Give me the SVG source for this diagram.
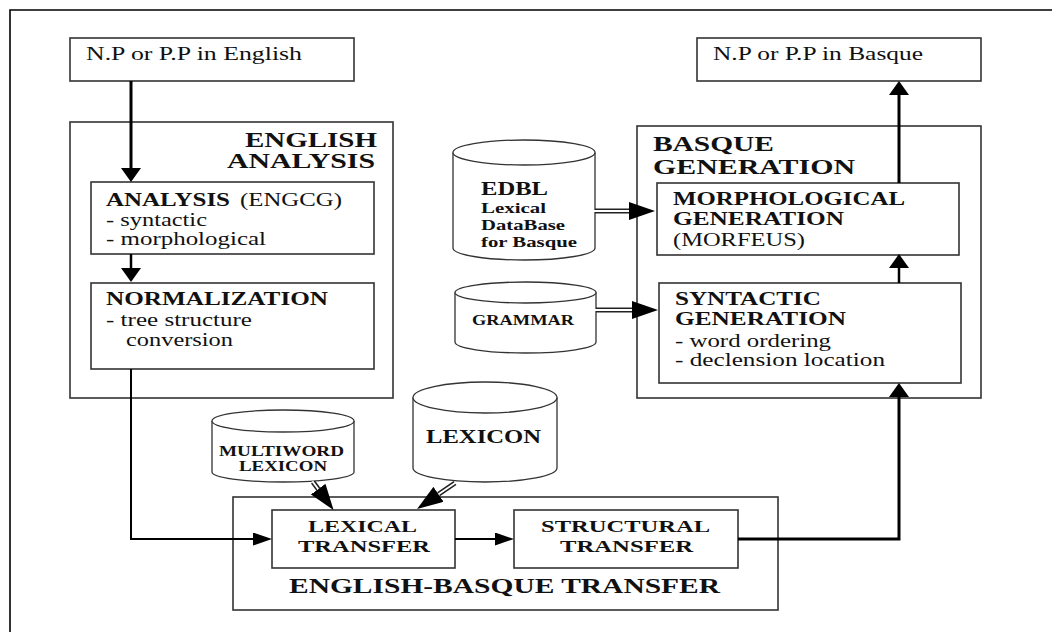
<svg xmlns="http://www.w3.org/2000/svg" width="1052" height="632" viewBox="0 0 1052 632">
<style>
.box{fill:#fff;stroke:#333;stroke-width:1.6}
.cyl{fill:#fff;stroke:#333;stroke-width:1.3}
.t{font-family:"Liberation Serif","Times New Roman",serif;fill:#111}
.r18{font-size:19px}
.r17{font-size:18px}
.b19{font-size:20px;font-weight:bold}
.b17{font-size:18px;font-weight:bold}
.b16{font-size:17px;font-weight:bold}
.b14{font-size:15px;font-weight:bold}
.ln{fill:none;stroke:#000}
.dbl{fill:none;stroke:#222;stroke-width:5}
.dbw{fill:none;stroke:#fff;stroke-width:1.8}
</style>
<defs>
<marker id="av" markerUnits="userSpaceOnUse" viewBox="0 0 14 20" markerWidth="14" markerHeight="20" refX="0" refY="10" orient="auto"><path d="M0,0 L14,10 L0,20 z" fill="#000"/></marker>
<marker id="ah" markerUnits="userSpaceOnUse" viewBox="0 0 19 13" markerWidth="19" markerHeight="13" refX="0" refY="6.5" orient="auto"><path d="M0,0 L19,6.5 L0,13 z" fill="#000"/></marker>
<marker id="ad" markerUnits="userSpaceOnUse" viewBox="0 0 26 18" markerWidth="26" markerHeight="18" refX="0" refY="9" orient="auto"><path d="M0,0 L26,9 L0,18 z" fill="#000"/></marker>
</defs>
<rect width="1052" height="632" fill="#fff"/>
<g id="frame"><path d="M10,632 V10 H1052" fill="none" stroke="#000" stroke-width="1.6"/></g>

<g id="np-english"><rect class="box" x="70" y="38" width="284" height="43"/>
<text class="t r18" x="86" y="60" textLength="216" lengthAdjust="spacingAndGlyphs">N.P or P.P in English</text></g>

<g id="english-analysis"><rect class="box" x="70" y="122" width="323" height="276"/>
<text class="t b19" x="245" y="147" textLength="132" lengthAdjust="spacingAndGlyphs">ENGLISH</text>
<text class="t b19" x="227" y="168" textLength="148" lengthAdjust="spacingAndGlyphs">ANALYSIS</text></g>

<g id="analysis"><rect class="box" x="91" y="182" width="283" height="72"/>
<text class="t b17" x="106" y="206" textLength="124" lengthAdjust="spacingAndGlyphs">ANALYSIS</text>
<text class="t r17" x="240" y="206" textLength="102" lengthAdjust="spacingAndGlyphs">(ENGCG)</text>
<text class="t r17" x="106" y="226" textLength="101" lengthAdjust="spacingAndGlyphs">- syntactic</text>
<text class="t r17" x="106" y="245" textLength="160" lengthAdjust="spacingAndGlyphs">- morphological</text></g>

<g id="normalization"><rect class="box" x="91" y="283" width="283" height="86"/>
<text class="t b17" x="106" y="305" textLength="222" lengthAdjust="spacingAndGlyphs">NORMALIZATION</text>
<text class="t r17" x="106" y="326" textLength="146" lengthAdjust="spacingAndGlyphs">- tree structure</text>
<text class="t r17" x="126" y="346" textLength="107" lengthAdjust="spacingAndGlyphs">conversion</text></g>

<g id="np-basque"><rect class="box" x="697" y="38" width="284" height="43"/>
<text class="t r18" x="713" y="60" textLength="210" lengthAdjust="spacingAndGlyphs">N.P or P.P in Basque</text></g>

<g id="basque-generation"><rect class="box" x="637" y="126" width="344" height="272"/>
<text class="t b19" x="653" y="151" textLength="121" lengthAdjust="spacingAndGlyphs">BASQUE</text>
<text class="t b19" x="653" y="174" textLength="202" lengthAdjust="spacingAndGlyphs">GENERATION</text></g>

<g id="morphological-generation"><rect class="box" x="657" y="183" width="302" height="72"/>
<text class="t b17" x="673" y="205" textLength="232" lengthAdjust="spacingAndGlyphs">MORPHOLOGICAL</text>
<text class="t b17" x="673" y="225" textLength="171" lengthAdjust="spacingAndGlyphs">GENERATION</text>
<text class="t r17" x="673" y="246" textLength="132" lengthAdjust="spacingAndGlyphs">(MORFEUS)</text></g>

<g id="syntactic-generation"><rect class="box" x="659" y="283" width="302" height="100"/>
<text class="t b17" x="675" y="305" textLength="146" lengthAdjust="spacingAndGlyphs">SYNTACTIC</text>
<text class="t b17" x="675" y="325" textLength="171" lengthAdjust="spacingAndGlyphs">GENERATION</text>
<text class="t r17" x="675" y="347" textLength="156" lengthAdjust="spacingAndGlyphs">- word ordering</text>
<text class="t r17" x="675" y="366" textLength="210" lengthAdjust="spacingAndGlyphs">- declension location</text></g>

<g id="edbl"><path class="cyl" d="M453,152.5 V248 A71,12 0 0 0 595,248 V152.5"/>
<ellipse class="cyl" cx="524" cy="152.5" rx="71" ry="12.5"/>
<text class="t b17" x="481" y="195" textLength="67" lengthAdjust="spacingAndGlyphs">EDBL</text>
<text class="t b14" x="481" y="213" textLength="65" lengthAdjust="spacingAndGlyphs">Lexical</text>
<text class="t b14" x="481" y="230" textLength="84" lengthAdjust="spacingAndGlyphs">DataBase</text>
<text class="t b14" x="481" y="247" textLength="96" lengthAdjust="spacingAndGlyphs">for Basque</text></g>

<g id="grammar"><path class="cyl" d="M455,292.5 V342 A70.5,11 0 0 0 596,342 V292.5"/>
<ellipse class="cyl" cx="525.5" cy="292.5" rx="70.5" ry="10.5"/>
<text class="t b14" x="472" y="325" textLength="102" lengthAdjust="spacingAndGlyphs">GRAMMAR</text></g>

<g id="multiword-lexicon"><path class="cyl" d="M212,421 V472 A71,10 0 0 0 354,472 V421"/>
<ellipse class="cyl" cx="283" cy="421" rx="71" ry="11"/>
<text class="t b14" x="219" y="456" textLength="125" lengthAdjust="spacingAndGlyphs">MULTIWORD</text>
<text class="t b14" x="239" y="471" textLength="88" lengthAdjust="spacingAndGlyphs">LEXICON</text></g>

<g id="lexicon"><path class="cyl" d="M413,397.5 V468 A72,14 0 0 0 557,468 V397.5"/>
<ellipse class="cyl" cx="485" cy="397.5" rx="72" ry="15.5"/>
<text class="t b17" x="426" y="443" textLength="115" lengthAdjust="spacingAndGlyphs">LEXICON</text></g>

<g id="english-basque-transfer"><rect class="box" x="233" y="497" width="545" height="113"/>
<text class="t b19" x="289" y="593" textLength="431" lengthAdjust="spacingAndGlyphs">ENGLISH-BASQUE TRANSFER</text></g>

<g id="lexical-transfer"><rect class="box" x="272" y="510" width="183" height="58"/>
<text class="t b16" x="308" y="532" textLength="109" lengthAdjust="spacingAndGlyphs">LEXICAL</text>
<text class="t b16" x="298" y="552" textLength="132" lengthAdjust="spacingAndGlyphs">TRANSFER</text></g>

<g id="structural-transfer"><rect class="box" x="514" y="510" width="224" height="58"/>
<text class="t b16" x="541" y="532" textLength="169" lengthAdjust="spacingAndGlyphs">STRUCTURAL</text>
<text class="t b16" x="560" y="552" textLength="133" lengthAdjust="spacingAndGlyphs">TRANSFER</text></g>

<g id="connectors">
<path class="ln" stroke-width="3" d="M131,81 V168" marker-end="url(#av)"/>
<path class="ln" stroke-width="2.5" d="M131,254 V268" marker-end="url(#av)"/>
<path class="ln" stroke-width="2" d="M131,369 V539 H253" marker-end="url(#ah)"/>
<path class="ln" stroke-width="2" d="M455,539 H495" marker-end="url(#ah)"/>
<path class="ln" stroke-width="3" d="M738,539 H899 V397" marker-end="url(#av)"/>
<path class="ln" stroke-width="2.5" d="M899,283 V268" marker-end="url(#av)"/>
<path class="ln" stroke-width="3" d="M899,183 V95" marker-end="url(#av)"/>
<path class="dbl" d="M595,211 H629" marker-end="url(#ad)"/>
<path class="dbw" d="M594,211 H629"/>
<path class="dbl" d="M596,310 H632" marker-end="url(#ad)"/>
<path class="dbw" d="M595,310 H632"/>
<path class="dbl" d="M313,482 L318.2,489.1" marker-end="url(#ad)"/>
<path class="dbw" d="M312.4,481.2 L318.2,489.1"/>
<path class="dbl" d="M455,483 L438.5,494.3" marker-end="url(#ad)"/>
<path class="dbw" d="M455.8,482.5 L438.5,494.3"/>
</g>
</svg>
